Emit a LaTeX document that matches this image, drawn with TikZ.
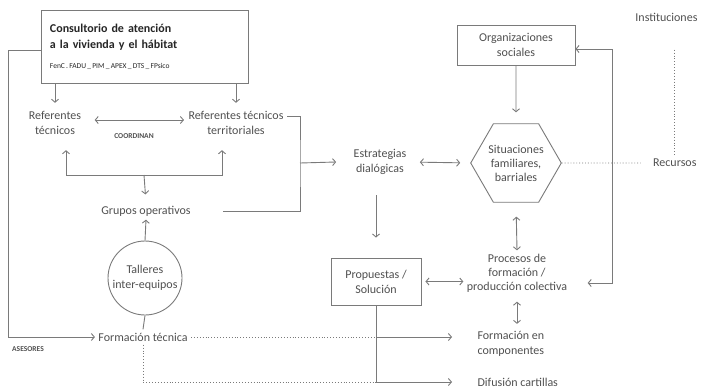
\documentclass[tikz,border=0pt]{standalone}
\usepackage{fontspec}
\setmainfont{Carlito}
\usetikzlibrary{shapes.geometric,arrows.meta}
\definecolor{linegray}{HTML}{7A7A7A}
\definecolor{textgray}{HTML}{505050}
\begin{document}
\begin{tikzpicture}[x=1pt,y=-1pt,
  >={Straight Barb[length=3pt,width=7pt]},
  every node/.style={font=\fontsize{12}{15}\selectfont,text=textgray,align=center},
  box/.style={draw=linegray,line width=0.9pt,fill=white},
  conn/.style={draw=linegray,line width=0.9pt},
  dots/.style={conn,dotted},
  tinylabel/.style={font=\fontsize{7.5}{9}\selectfont\bfseries}]
  \useasboundingbox (0,0) rectangle (701,388);
  % left column
  \node[box,minimum width=207,minimum height=73,text width=190,align=left,
        anchor=north west,text=black!85] (cons) at (41,10)
    {\bfseries\fontsize{12}{16}\selectfont Consultorio de atención\\
     a la vivienda y el hábitat\\[5pt]
     \mdseries\fontsize{7.5}{9}\selectfont FenC\,.\,FADU\,\_\,PIM\,\_\,APEX\,\_\,DTS\,\_\,FPsico};
  \node (reft) at (55,123) {Referentes\\técnicos};
  \node (reftt) at (236,123) {Referentes técnicos\\territoriales};
  \node[tinylabel] (coord) at (134,136) {COORDINAN};
  \node (grupos) at (146,211) {Grupos operativos};
  \node[draw=linegray,line width=0.9pt,circle,minimum size=74,inner sep=0] (talleres)
    at (145,278) {Talleres\\inter-equipos};
  \node (formtec) at (143,337) {Formación técnica};
  \node[tinylabel] (ases) at (28,349) {ASESORES};
  % right part
  \node (estr) at (380,162) {Estrategias\\dialógicas};
  \node[box,regular polygon,regular polygon sides=6,minimum size=82,inner sep=0,
        font=\fontsize{12}{14}\selectfont] (hex) at (516,163)
    {Situaciones\\familiares,\\barriales};
  \node[box,minimum width=118,minimum height=40] (org) at (516,45) {Organizaciones\\sociales};
  \node[anchor=east] (inst) at (701,17) {Instituciones};
  \node[anchor=east] (recur) at (700,163) {Recursos};
  \node[box,minimum width=90,minimum height=47] (prop) at (376,281.5) {Propuestas /\\Solución};
  \node[font=\fontsize{12}{14}\selectfont] (proc) at (517,273)
    {Procesos de\\formación /\\producción colectiva};
  \node[anchor=west,align=left] (formcomp) at (474,344) {Formación en\\componentes};
  \node[anchor=west] (difus) at (474,382) {Difusión cartillas};
  \coordinate (jun) at (144,175);
  \coordinate (cr) at (300,163);
  \coordinate (rt) at (612,283);
  \coordinate (br) at (prop.south |- formtec);
  % connectors
  \draw[conn,->] ([yshift=-3.5]cons.west) -- ++(-33,0) |- (formtec.west);
  \draw[conn,->,shorten >=5pt] (cons.south -| reft) -- (reft.north);
  \draw[conn,->,shorten >=5pt] (cons.south -| reftt) -- (reftt.north);
  \draw[conn,<->,shorten <=10pt,shorten >=1pt] ([yshift=3]reft.east) -- ([yshift=3]reftt.west);
  \draw[conn,->,shorten >=12pt] (jun) -| ([xshift=11]reft.south);
  \draw[conn,->,shorten >=12pt] (jun) -| ([xshift=-14]reftt.south);
  \draw[conn,->,shorten >=8pt] (jun) -- (grupos.north);
  \draw[conn] ([yshift=7]reftt.east) -| (cr) |- ([xshift=29]grupos.east);
  \draw[conn,->] (cr) -- ([xshift=-14]estr.west);
  \draw[conn,<->,shorten <=10pt,shorten >=10pt] (estr.east) -- (hex.west);
  \draw[conn,->,shorten >=11pt] (org.south) -- (hex.north);
  \draw[conn,<->,shorten >=17pt] ([yshift=-4]org.east) -| (rt) -- (rt -| proc.east);
  \draw[dots,shorten >=9pt] (hex.east) -- (recur.west);
  \draw[dots,shorten <=25pt,shorten >=1pt] (inst.south -| recur.north) -- (recur.north);
  \draw[conn,->,shorten <=17pt,shorten >=20pt] (prop.north |- estr.south) -- (prop.north);
  \draw[conn,<->,shorten <=4pt] (prop.east) -- (prop.east -| proc.west);
  \draw[conn,<->,shorten <=14pt] (hex.south) -- (proc.north);
  \draw[conn,<->,shorten <=6pt,shorten >=4pt] (proc.south) -- (proc.south |- formcomp.north);
  \draw[conn,->,shorten >=22pt] (prop.south) |- (difus.west);
  \draw[conn,->,shorten >=22pt] (br) -- (br -| formcomp.west);
  \draw[dots] (formtec.east) -- (br);
  \draw[dots] (formtec.south) |- (prop.south |- difus);
  \draw[conn,->] (talleres.north) -- (grupos.south);
  \draw[conn] (talleres.south) -- (formtec.north);
\end{tikzpicture}
\end{document}
